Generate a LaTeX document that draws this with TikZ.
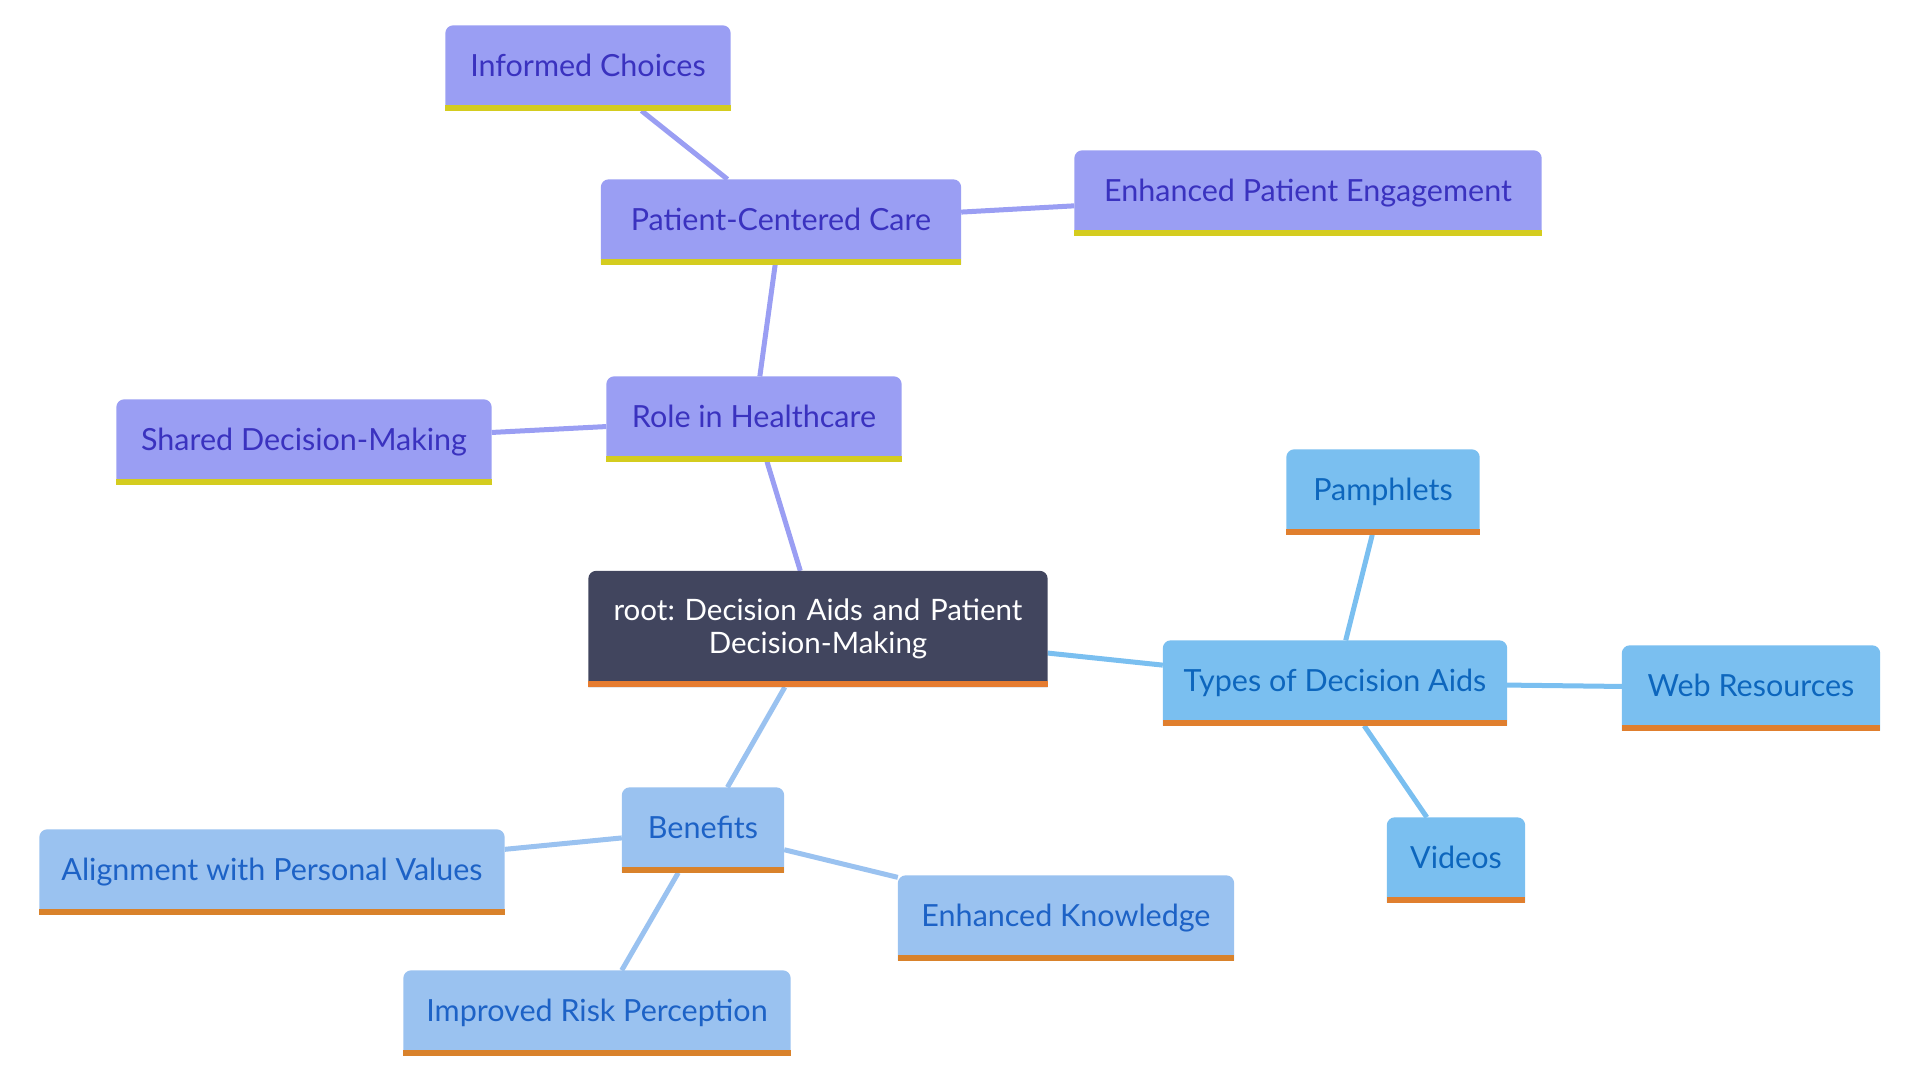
\documentclass[tikz,border=0pt]{standalone}
\usepackage{fontspec}
\setmainfont{Lato}
\usetikzlibrary{positioning,backgrounds}
\definecolor{rootfill}{HTML}{41455E}
\definecolor{rootbar}{HTML}{E67C30}
\definecolor{purfill}{HTML}{9A9EF3}
\definecolor{purtext}{HTML}{3A32BF}
\definecolor{purbar}{HTML}{D4CC1F}
\definecolor{typfill}{HTML}{7ABFF0}
\definecolor{typtext}{HTML}{0D66BD}
\definecolor{typbar}{HTML}{E07F2E}
\definecolor{benfill}{HTML}{9AC2F0}
\definecolor{bentext}{HTML}{1D62C6}
\definecolor{benbar}{HTML}{D9822B}
\frenchspacing

\begin{document}
\begin{tikzpicture}[x=1pt,y=-1pt,
    box/.style={minimum height=85pt, inner sep=0pt, text height=22pt, text depth=6pt,
                font=\fontsize{30.5}{35}\selectfont},
    pur/.style={box, text=purtext},
    typ/.style={box, text=typtext},
    ben/.style={box, text=bentext},
    edge/.style={line width=5pt}]
  \useasboundingbox (0,0) rectangle (1920,1080);

  % root
  \node[text=white, minimum width=459pt, minimum height=116pt, inner sep=0pt, text width=440pt, align=center,
        font=\fontsize{29.5}{33}\selectfont] (root) at (818,629) {root: Decision Aids and Patient\\Decision-Making};

  % role in healthcare
  \node[pur, minimum width=295pt] (role) at (754,419) {Role in Healthcare};
  \node[pur, minimum width=360pt] (care) at (781,222) {Patient-Centered Care};
  \node[pur, minimum width=285pt] (informed) at (588,68) {Informed Choices};
  \node[pur, minimum width=467pt] (engage) at (1308,193) {Enhanced Patient Engagement};
  \node[pur, minimum width=375pt] (shared) at (304,442) {Shared Decision-Making};

  % types of decision aids
  \node[typ, minimum width=344pt] (types) at (1335,683) {Types of Decision Aids};
  \node[typ, minimum width=193pt] (pamph) at (1383,492) {Pamphlets};
  \node[typ, minimum width=258pt] (web) at (1751,688) {Web Resources};
  \node[typ, minimum width=138pt] (videos) at (1456,860) {Videos};

  % benefits
  \node[ben, minimum width=162pt] (benefits) at (703,830) {Benefits};
  \node[ben, minimum width=465pt] (align) at (272,872) {Alignment with Personal Values};
  \node[ben, minimum width=336pt] (know) at (1066,918) {Enhanced Knowledge};
  \node[ben, minimum width=387pt] (risk) at (597,1013) {Improved Risk Perception};

  \begin{scope}[on background layer]
    % connectors
    \draw[edge, purfill] (root) -- (role);
    \foreach \a/\b in {role/care, care/informed, care/engage, role/shared}
      \draw[edge, purfill] (\a) -- (\b);
    \draw[edge, typfill] (root) -- (types);
    \foreach \b in {pamph, web, videos}
      \draw[edge, typfill] (types) -- (\b);
    \draw[edge, benfill] (root) -- (benefits);
    \foreach \b in {align, know, risk}
      \draw[edge, benfill] (benefits) -- (\b);

    % boxes
    \foreach \nm/\f/\c in {root/rootfill/rootbar,
        role/purfill/purbar, care/purfill/purbar, informed/purfill/purbar,
        engage/purfill/purbar, shared/purfill/purbar,
        types/typfill/typbar, pamph/typfill/typbar, web/typfill/typbar, videos/typfill/typbar,
        benefits/benfill/benbar, align/benfill/benbar, know/benfill/benbar, risk/benfill/benbar} {
      \fill[\f] (\nm.south west) [rounded corners=8pt] -- (\nm.north west) -- (\nm.north east)
        [sharp corners] -- (\nm.south east) -- cycle;
      \fill[\c] (\nm.south west) rectangle ([yshift=6pt]\nm.south east);
    }
  \end{scope}
\end{tikzpicture}
\end{document}
